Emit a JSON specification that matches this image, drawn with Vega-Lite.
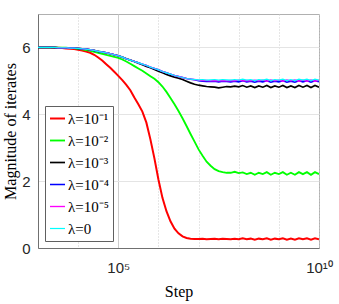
{
  "$schema": "https://vega.github.io/schema/vega-lite/v6.json",
  "width": 281,
  "height": 234,
  "autosize": "none",
  "padding": {"left": 38, "top": 14, "right": 20, "bottom": 56},
  "background": "white",
  "config": {
    "view": {"stroke": "#b0b0b0", "strokeWidth": 1},
    "axis": {
      "labelFont": "Liberation Sans",
      "labelFontSize": 15,
      "labelColor": "#262626",
      "titleFont": "Liberation Serif",
      "titleFontSize": 16,
      "titleFontWeight": "normal",
      "titleColor": "#000000",
      "domainColor": "#707070",
      "ticks": false,
      "gridColor": "#e4e4e4"
    }
  },
  "data": {
    "values": [
      {"step": 1000, "s1": 6.00, "s2": 6.00, "s3": 6.00, "s4": 6.00, "s5": 6.00, "s6": 6.00},
      {"step": 1259, "s1": 6.00, "s2": 6.00, "s3": 6.00, "s4": 6.00, "s5": 6.00, "s6": 6.00},
      {"step": 1585, "s1": 6.00, "s2": 6.00, "s3": 6.00, "s4": 6.00, "s5": 6.00, "s6": 6.00},
      {"step": 1995, "s1": 6.00, "s2": 6.00, "s3": 6.00, "s4": 6.00, "s5": 6.00, "s6": 6.00},
      {"step": 2512, "s1": 5.99, "s2": 6.00, "s3": 6.00, "s4": 6.00, "s5": 6.00, "s6": 6.00},
      {"step": 3162, "s1": 5.99, "s2": 5.99, "s3": 5.99, "s4": 5.99, "s5": 5.99, "s6": 5.99},
      {"step": 3981, "s1": 5.98, "s2": 5.99, "s3": 5.99, "s4": 5.99, "s5": 5.99, "s6": 5.99},
      {"step": 5012, "s1": 5.97, "s2": 5.99, "s3": 5.99, "s4": 5.99, "s5": 5.99, "s6": 5.99},
      {"step": 6310, "s1": 5.96, "s2": 5.98, "s3": 5.98, "s4": 5.98, "s5": 5.98, "s6": 5.98},
      {"step": 7943, "s1": 5.95, "s2": 5.98, "s3": 5.98, "s4": 5.98, "s5": 5.98, "s6": 5.98},
      {"step": 1.0e4, "s1": 5.93, "s2": 5.96, "s3": 5.97, "s4": 5.97, "s5": 5.97, "s6": 5.97},
      {"step": 1.259e4, "s1": 5.91, "s2": 5.94, "s3": 5.96, "s4": 5.96, "s5": 5.96, "s6": 5.96},
      {"step": 1.585e4, "s1": 5.88, "s2": 5.92, "s3": 5.95, "s4": 5.95, "s5": 5.95, "s6": 5.95},
      {"step": 1.995e4, "s1": 5.84, "s2": 5.90, "s3": 5.93, "s4": 5.93, "s5": 5.93, "s6": 5.93},
      {"step": 2.512e4, "s1": 5.78, "s2": 5.87, "s3": 5.91, "s4": 5.91, "s5": 5.91, "s6": 5.91},
      {"step": 3.162e4, "s1": 5.70, "s2": 5.84, "s3": 5.88, "s4": 5.88, "s5": 5.88, "s6": 5.88},
      {"step": 3.981e4, "s1": 5.61, "s2": 5.81, "s3": 5.86, "s4": 5.86, "s5": 5.86, "s6": 5.86},
      {"step": 5.012e4, "s1": 5.50, "s2": 5.78, "s3": 5.84, "s4": 5.84, "s5": 5.84, "s6": 5.84},
      {"step": 6.310e4, "s1": 5.39, "s2": 5.75, "s3": 5.81, "s4": 5.81, "s5": 5.81, "s6": 5.81},
      {"step": 7.943e4, "s1": 5.27, "s2": 5.72, "s3": 5.78, "s4": 5.78, "s5": 5.78, "s6": 5.78},
      {"step": 1.0e5, "s1": 5.15, "s2": 5.69, "s3": 5.75, "s4": 5.75, "s5": 5.75, "s6": 5.75},
      {"step": 1.259e5, "s1": 5.02, "s2": 5.64, "s3": 5.71, "s4": 5.71, "s5": 5.71, "s6": 5.71},
      {"step": 1.585e5, "s1": 4.88, "s2": 5.58, "s3": 5.66, "s4": 5.66, "s5": 5.66, "s6": 5.66},
      {"step": 1.995e5, "s1": 4.72, "s2": 5.51, "s3": 5.62, "s4": 5.62, "s5": 5.62, "s6": 5.62},
      {"step": 2.512e5, "s1": 4.50, "s2": 5.44, "s3": 5.58, "s4": 5.58, "s5": 5.58, "s6": 5.58},
      {"step": 3.162e5, "s1": 4.30, "s2": 5.37, "s3": 5.53, "s4": 5.54, "s5": 5.54, "s6": 5.54},
      {"step": 3.981e5, "s1": 4.08, "s2": 5.30, "s3": 5.48, "s4": 5.50, "s5": 5.50, "s6": 5.50},
      {"step": 5.012e5, "s1": 3.75, "s2": 5.22, "s3": 5.43, "s4": 5.46, "s5": 5.46, "s6": 5.46},
      {"step": 6.310e5, "s1": 3.25, "s2": 5.14, "s3": 5.39, "s4": 5.41, "s5": 5.41, "s6": 5.41},
      {"step": 7.943e5, "s1": 2.68, "s2": 5.06, "s3": 5.34, "s4": 5.37, "s5": 5.37, "s6": 5.37},
      {"step": 1.0e6, "s1": 2.05, "s2": 4.96, "s3": 5.29, "s4": 5.33, "s5": 5.33, "s6": 5.33},
      {"step": 1.259e6, "s1": 1.50, "s2": 4.83, "s3": 5.24, "s4": 5.28, "s5": 5.28, "s6": 5.28},
      {"step": 1.585e6, "s1": 1.10, "s2": 4.67, "s3": 5.19, "s4": 5.24, "s5": 5.24, "s6": 5.24},
      {"step": 1.995e6, "s1": 0.80, "s2": 4.49, "s3": 5.15, "s4": 5.20, "s5": 5.20, "s6": 5.20},
      {"step": 2.512e6, "s1": 0.58, "s2": 4.30, "s3": 5.11, "s4": 5.16, "s5": 5.16, "s6": 5.16},
      {"step": 3.162e6, "s1": 0.44, "s2": 4.10, "s3": 5.08, "s4": 5.13, "s5": 5.13, "s6": 5.13},
      {"step": 3.981e6, "s1": 0.35, "s2": 3.88, "s3": 5.04, "s4": 5.10, "s5": 5.10, "s6": 5.10},
      {"step": 5.012e6, "s1": 0.30, "s2": 3.65, "s3": 4.99, "s4": 5.07, "s5": 5.07, "s6": 5.07},
      {"step": 6.310e6, "s1": 0.28, "s2": 3.41, "s3": 4.94, "s4": 5.05, "s5": 5.05, "s6": 5.05},
      {"step": 7.943e6, "s1": 0.27, "s2": 3.18, "s3": 4.90, "s4": 5.03, "s5": 5.04, "s6": 5.04},
      {"step": 1.0e7, "s1": 0.27, "s2": 2.95, "s3": 4.87, "s4": 5.00, "s5": 5.02, "s6": 5.03},
      {"step": 1.259e7, "s1": 0.28, "s2": 2.76, "s3": 4.85, "s4": 4.99, "s5": 5.01, "s6": 5.04},
      {"step": 1.585e7, "s1": 0.26, "s2": 2.58, "s3": 4.83, "s4": 4.98, "s5": 5.01, "s6": 5.02},
      {"step": 1.995e7, "s1": 0.27, "s2": 2.46, "s3": 4.82, "s4": 4.98, "s5": 5.00, "s6": 5.03},
      {"step": 2.512e7, "s1": 0.28, "s2": 2.36, "s3": 4.81, "s4": 4.99, "s5": 5.01, "s6": 5.04},
      {"step": 3.162e7, "s1": 0.26, "s2": 2.30, "s3": 4.79, "s4": 4.97, "s5": 5.00, "s6": 5.02},
      {"step": 3.981e7, "s1": 0.28, "s2": 2.27, "s3": 4.81, "s4": 4.99, "s5": 5.01, "s6": 5.04},
      {"step": 5.012e7, "s1": 0.27, "s2": 2.25, "s3": 4.83, "s4": 4.98, "s5": 5.00, "s6": 5.03},
      {"step": 6.310e7, "s1": 0.26, "s2": 2.25, "s3": 4.82, "s4": 4.97, "s5": 5.01, "s6": 5.02},
      {"step": 7.943e7, "s1": 0.28, "s2": 2.28, "s3": 4.84, "s4": 4.99, "s5": 5.00, "s6": 5.04},
      {"step": 1.0e8, "s1": 0.26, "s2": 2.24, "s3": 4.82, "s4": 4.97, "s5": 5.02, "s6": 5.02},
      {"step": 1.259e8, "s1": 0.29, "s2": 2.26, "s3": 4.86, "s4": 5.00, "s5": 5.00, "s6": 5.05},
      {"step": 1.585e8, "s1": 0.26, "s2": 2.21, "s3": 4.81, "s4": 4.97, "s5": 5.01, "s6": 5.02},
      {"step": 1.995e8, "s1": 0.28, "s2": 2.25, "s3": 4.85, "s4": 4.99, "s5": 5.00, "s6": 5.04},
      {"step": 2.512e8, "s1": 0.25, "s2": 2.19, "s3": 4.80, "s4": 4.96, "s5": 5.02, "s6": 5.01},
      {"step": 3.162e8, "s1": 0.28, "s2": 2.25, "s3": 4.85, "s4": 4.99, "s5": 5.00, "s6": 5.04},
      {"step": 3.981e8, "s1": 0.26, "s2": 2.21, "s3": 4.81, "s4": 4.97, "s5": 5.02, "s6": 5.02},
      {"step": 5.012e8, "s1": 0.29, "s2": 2.27, "s3": 4.86, "s4": 5.00, "s5": 4.99, "s6": 5.05},
      {"step": 6.310e8, "s1": 0.25, "s2": 2.19, "s3": 4.80, "s4": 4.96, "s5": 5.03, "s6": 5.01},
      {"step": 7.943e8, "s1": 0.28, "s2": 2.25, "s3": 4.85, "s4": 4.99, "s5": 5.00, "s6": 5.04},
      {"step": 1.0e9, "s1": 0.26, "s2": 2.21, "s3": 4.81, "s4": 4.97, "s5": 5.02, "s6": 5.02},
      {"step": 1.259e9, "s1": 0.29, "s2": 2.27, "s3": 4.86, "s4": 5.00, "s5": 4.99, "s6": 5.05},
      {"step": 1.585e9, "s1": 0.25, "s2": 2.19, "s3": 4.80, "s4": 4.96, "s5": 5.03, "s6": 5.01},
      {"step": 1.995e9, "s1": 0.28, "s2": 2.25, "s3": 4.85, "s4": 4.99, "s5": 5.00, "s6": 5.04},
      {"step": 2.512e9, "s1": 0.25, "s2": 2.19, "s3": 4.80, "s4": 4.96, "s5": 5.03, "s6": 5.01},
      {"step": 3.162e9, "s1": 0.29, "s2": 2.27, "s3": 4.86, "s4": 5.00, "s5": 4.99, "s6": 5.05},
      {"step": 3.981e9, "s1": 0.26, "s2": 2.21, "s3": 4.81, "s4": 4.97, "s5": 5.02, "s6": 5.02},
      {"step": 5.012e9, "s1": 0.29, "s2": 2.27, "s3": 4.86, "s4": 5.00, "s5": 4.99, "s6": 5.05},
      {"step": 6.310e9, "s1": 0.25, "s2": 2.19, "s3": 4.80, "s4": 4.96, "s5": 5.03, "s6": 5.01},
      {"step": 7.943e9, "s1": 0.29, "s2": 2.27, "s3": 4.86, "s4": 5.00, "s5": 4.99, "s6": 5.05},
      {"step": 1.0e10, "s1": 0.26, "s2": 2.21, "s3": 4.81, "s4": 4.97, "s5": 5.02, "s6": 5.02}
    ]
  },
  "transform": [
    {"fold": ["s1", "s2", "s3", "s4", "s5", "s6"], "as": ["series", "magnitude"]}
  ],
  "mark": {"type": "line", "clip": true},
  "encoding": {
    "x": {
      "field": "step",
      "type": "quantitative",
      "scale": {"type": "log", "domain": [1000, 1e10], "nice": false},
      "axis": {
        "title": "Step",
        "values": [1000, 1e4, 1e5, 1e6, 1e7, 1e8, 1e9, 1e10],
        "labelExpr": "datum.value == 1e5 ? '10⁵' : (datum.value == 1e10 ? '10¹⁰' : '')",
        "labelFlush": false,
        "labelPadding": 12,
        "titlePadding": 8,
        "gridDash": {"condition": {"test": "datum.value == 1e5", "value": []}, "value": [1, 2]},
        "gridColor": "#cccccc"
      }
    },
    "y": {
      "field": "magnitude",
      "type": "quantitative",
      "scale": {"domain": [0, 7], "nice": false},
      "axis": {
        "title": "Magnitude of iterates",
        "values": [0, 2, 4, 6],
        "labelPadding": 8,
        "titlePadding": 3
      }
    },
    "color": {
      "field": "series",
      "type": "nominal",
      "scale": {
        "domain": ["s1", "s2", "s3", "s4", "s5", "s6"],
        "range": ["#ff0000", "#00ff00", "#000000", "#0000ff", "#ff00ff", "#00ffff"]
      },
      "legend": {
        "title": null,
        "orient": "none",
        "legendX": 7,
        "legendY": 92,
        "symbolType": "stroke",
        "symbolSize": 225,
        "symbolStrokeWidth": 1,
        "labelFont": "Liberation Serif",
        "labelFontSize": 15,
        "labelColor": "#000000",
        "strokeColor": "#606060",
        "fillColor": "white",
        "padding": 4,
        "rowPadding": 5,
        "labelOffset": 2,
        "cornerRadius": 0,
        "labelExpr": "datum.value == 's1' ? 'λ=10⁻¹' : datum.value == 's2' ? 'λ=10⁻²' : datum.value == 's3' ? 'λ=10⁻³' : datum.value == 's4' ? 'λ=10⁻⁴' : datum.value == 's5' ? 'λ=10⁻⁵' : 'λ=0'",
        "encode": {
          "symbols": {"update": {"strokeWidth": {"signal": "datum.value == 's1' ? 2 : 1"}}}
        }
      }
    },
    "strokeWidth": {
      "field": "series",
      "type": "nominal",
      "scale": {
        "domain": ["s1", "s2", "s3", "s4", "s5", "s6"],
        "range": [2, 1.2, 1, 1, 1, 1]
      },
      "legend": null
    }
  }
}
